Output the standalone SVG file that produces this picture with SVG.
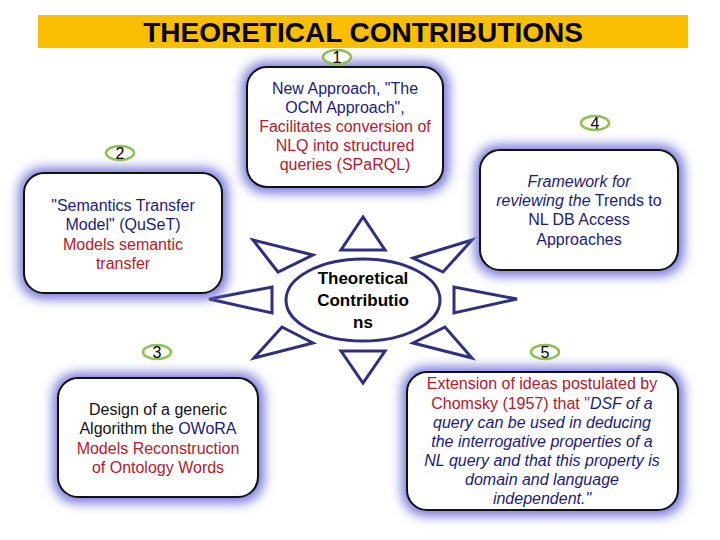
<svg xmlns="http://www.w3.org/2000/svg" width="720" height="540" viewBox="0 0 720 540">
<defs>
<filter id="glow" x="-25%" y="-25%" width="150%" height="150%">
<feGaussianBlur stdDeviation="6"/>
</filter>
</defs>
<style>
text{font-family:"Liberation Sans",Arial,sans-serif;text-anchor:middle}
.title{font-size:28px;font-weight:bold;fill:#000}
.num{font-size:16px;fill:#000}
.lab{fill:#fff;stroke:#8DC153;stroke-width:2.5}
.halo{fill:#7474D8;filter:url(#glow)}
.box{fill:#fff;stroke:#111;stroke-width:2}
.t{font-size:16px}
.nv{fill:#1C1C70}
.rd{fill:#B0202E}
.bk{fill:#111}
.it{font-style:italic}
.ctr{font-size:17px;font-weight:bold;fill:#000}
.tri{fill:#fff;stroke:#2E2F7E;stroke-width:3;stroke-linejoin:miter}
</style>
<rect x="0" y="0" width="720" height="540" fill="#fff"/>
<g id="title">
<rect x="38" y="15" width="650" height="33" fill="#F9BE00"/>
<text class="title" x="363" y="42">THEORETICAL CONTRIBUTIONS</text>
</g>
<g id="connectors">
<polygon class="tri" points="363,217 341,250 385,250"/>
<polygon class="tri" points="341,351 385,351 363,383"/>
<polygon class="tri" points="209,299 272,287 272,313"/>
<polygon class="tri" points="454,287 454,313 517,299"/>
<polygon class="tri" points="253,240 313,255 278,272"/>
<polygon class="tri" points="472,240 413,258 443,272"/>
<polygon class="tri" points="254,358 313,343 282,327"/>
<polygon class="tri" points="472,358 413,343 445,327"/>
</g>
<g id="center">
<ellipse cx="363" cy="300" rx="77" ry="41" fill="#fff" stroke="#2E2F7E" stroke-width="3"/>
<text class="ctr" x="363" y="284">Theoretical</text>
<text class="ctr" x="363" y="306">Contributio</text>
<text class="ctr" x="363" y="328">ns</text>
</g>
<g id="node1">
<rect class="halo" x="242" y="62" width="207" height="131" rx="24"/>
<rect class="box" x="247" y="67" width="196" height="120" rx="20"/>
<ellipse class="lab" cx="337" cy="57" rx="14" ry="7"/>
<text class="num" x="337" y="63">1</text>
<text class="t nv" x="345" y="94">New Approach, "The</text>
<text class="t nv" x="345" y="113">OCM Approach",</text>
<text class="t rd" x="345" y="132">Facilitates conversion of</text>
<text class="t rd" x="345" y="151">NLQ into structured</text>
<text class="t rd" x="345" y="170">queries (SPaRQL)</text>
</g>
<g id="node2">
<rect class="halo" x="19" y="168" width="209" height="131" rx="24"/>
<rect class="box" x="24" y="173" width="198" height="120" rx="20"/>
<ellipse class="lab" cx="120" cy="153" rx="14" ry="7"/>
<text class="num" x="120" y="159">2</text>
<text class="t nv" x="123" y="211">"Semantics Transfer</text>
<text class="t nv" x="123" y="230">Model" (QuSeT)</text>
<text class="t rd" x="123" y="250">Models semantic</text>
<text class="t rd" x="123" y="269">transfer</text>
</g>
<g id="node4">
<rect class="halo" x="475" y="145" width="209" height="131" rx="24"/>
<rect class="box" x="480" y="150" width="198" height="120" rx="20"/>
<ellipse class="lab" cx="595" cy="123" rx="14" ry="7"/>
<text class="num" x="595" y="129">4</text>
<text class="t nv it" x="579" y="187">Framework for</text>
<text class="t nv" x="579" y="206"><tspan class="it">reviewing the</tspan> Trends to</text>
<text class="t nv" x="579" y="225">NL DB Access</text>
<text class="t nv" x="579" y="245">Approaches</text>
</g>
<g id="node3">
<rect class="halo" x="53" y="373" width="211" height="130" rx="24"/>
<rect class="box" x="58" y="378" width="200" height="119" rx="20"/>
<ellipse class="lab" cx="157" cy="352" rx="14" ry="7"/>
<text class="num" x="157" y="358">3</text>
<text class="t bk" x="158" y="415">Design of a generic</text>
<text class="t bk" x="158" y="434">Algorithm the <tspan class="nv">OWoRA</tspan></text>
<text class="t rd" x="158" y="454">Models Reconstruction</text>
<text class="t rd" x="158" y="473">of Ontology Words</text>
</g>
<g id="node5">
<rect class="halo" x="402" y="367" width="282" height="149" rx="24"/>
<rect class="box" x="407" y="372" width="271" height="138" rx="20"/>
<ellipse class="lab" cx="545" cy="352" rx="14" ry="7"/>
<text class="num" x="545" y="358">5</text>
<text class="t rd" x="542" y="389">Extension of ideas postulated by</text>
<text class="t rd" x="542" y="409">Chomsky (1957) that "<tspan class="nv it">DSF of a</tspan></text>
<text class="t nv it" x="542" y="428">query can be used in deducing</text>
<text class="t nv it" x="542" y="447">the interrogative properties of a</text>
<text class="t nv it" x="542" y="466">NL query and that this property is</text>
<text class="t nv it" x="542" y="485">domain and language</text>
<text class="t nv it" x="542" y="504">independent."</text>
</g>
</svg>
